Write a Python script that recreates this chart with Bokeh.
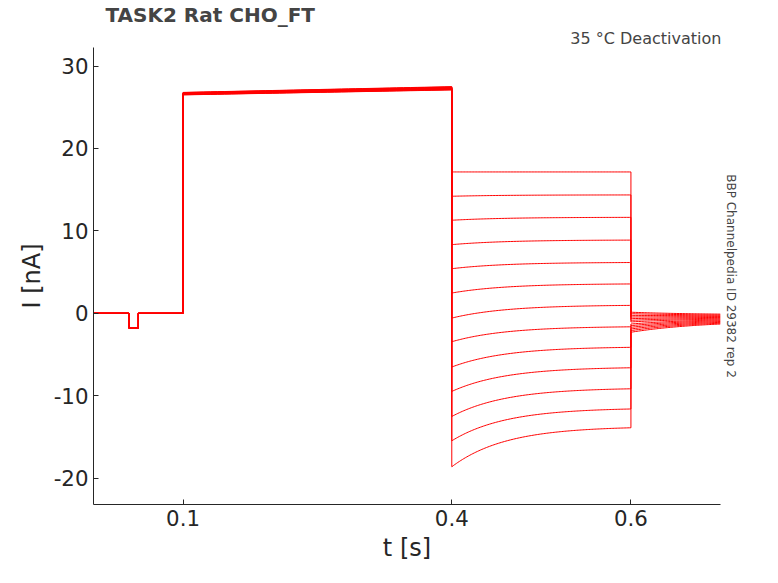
import numpy as np
from bokeh.plotting import figure
from bokeh.models import Title, FixedTicker, Range1d
from bokeh.embed import file_html
from bokeh.resources import INLINE

# Deactivation-step currents (nA), 13 sweeps
step_start = [17.15, 14.2, 11.29, 8.33, 5.41, 2.46, -0.58, -3.45, -6.52, -9.48, -12.52, -15.47, -18.62]
step_end = [17.15, 14.36, 11.64, 8.88, 6.16, 3.56, 0.96, -1.64, -4.13, -6.61, -9.16, -11.61, -13.89]
pre_start = [26.5, 26.52, 26.55, 26.58, 26.6, 26.62, 26.65, 26.68, 26.7, 26.72, 26.75, 26.78, 26.8]
pre_end = [27.1, 27.13, 27.16, 27.2, 27.23, 27.26, 27.3, 27.33, 27.36, 27.4, 27.43, 27.46, 27.5]
tail_start = [0.13, -0.05, -0.25, -0.45, -0.65, -0.85, -1.05, -1.3, -1.5, -1.7, -1.9, -2.1, -2.3]
tail_end = [-0.1, -0.2, -0.3, -0.4, -0.5, -0.6, -0.7, -0.8, -0.9, -1.0, -1.1, -1.2, -1.3]
hold = 0.0
test_pulse = -1.8
tau_step = 0.06
tau_tail = 0.08

p = figure(width=760, height=565, output_backend="svg", toolbar_location=None,
           x_range=Range1d(0, 0.7), y_range=Range1d(-23.2, 32.25),
           min_border_left=93, min_border_right=40, min_border_top=0, min_border_bottom=61)
p.title = None
p.add_layout(Title(text="35 °C  Deactivation", align="right", text_font="DejaVu Sans",
                   text_font_size="12pt", text_font_style="normal", standoff=0, offset=-6), "above")
p.add_layout(Title(text="TASK2  Rat  CHO_FT", align="left", text_font="DejaVu Sans",
                   text_font_size="15pt", text_font_style="bold", standoff=0, offset=12), "above")
p.add_layout(Title(text="BBP Channelpedia ID 29382 rep 2", align="center", text_font="DejaVu Sans",
                   text_font_size="9pt", text_font_style="normal", standoff=6), "right")
p.grid.visible = False
p.outline_line_color = None
p.xaxis.ticker = FixedTicker(ticks=[0.1, 0.4, 0.6])
p.yaxis.ticker = FixedTicker(ticks=[-20, -10, 0, 10, 20, 30])
p.yaxis.major_label_overrides = {-20: "-20", -10: "-10"}
for ax in (p.xaxis, p.yaxis):
    ax.major_label_text_font = "DejaVu Sans"
    ax.major_label_text_font_size = "16pt"
    ax.major_label_text_color = "#262626"
    ax.axis_label_text_font = "DejaVu Sans"
    ax.axis_label_text_font_size = "18pt"
    ax.axis_label_text_font_style = "normal"
    ax.axis_label_text_color = "#262626"
    ax.axis_line_color = "#262626"
    ax.major_tick_line_color = "#262626"
    ax.major_tick_in = 5
    ax.major_tick_out = 0
    ax.minor_tick_line_color = None
p.xaxis.axis_label = "t [s]"
p.yaxis.axis_label = "I [nA]"

for i in range(len(step_start)):
    t1 = np.linspace(0.1, 0.4, 40)
    t2 = np.linspace(0.4, 0.6, 120)
    t3 = np.linspace(0.6, 0.7, 60)
    y1 = pre_start[i] + (pre_end[i] - pre_start[i]) * (t1 - 0.1) / 0.3
    d = (step_start[i] - step_end[i]) / (1 - np.exp(-0.2 / tau_step))
    y2 = step_end[i] - d * np.exp(-0.2 / tau_step) + d * np.exp(-(t2 - 0.4) / tau_step)
    dt = (tail_start[i] - tail_end[i]) / (1 - np.exp(-0.1 / tau_tail))
    y3 = tail_end[i] - dt * np.exp(-0.1 / tau_tail) + dt * np.exp(-(t3 - 0.6) / tau_tail)
    xs = [0, 0.0395, 0.0395, 0.05, 0.05, 0.1] + list(t1) + list(t2) + list(t3)
    ys = [hold, hold, test_pulse, test_pulse, hold, hold] + list(y1) + list(y2) + list(y3)
    p.line(xs, ys, color="red", line_width=1)

open("out.html", "w").write(file_html(p, INLINE))
